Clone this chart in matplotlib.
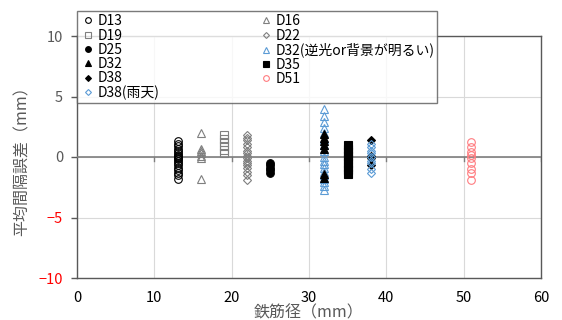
import matplotlib
matplotlib.use('Agg')
import matplotlib.pyplot as plt

plt.rcParams['font.family'] = ['Noto Sans CJK JP', 'DejaVu Sans']

# rebar diameter (mm) and mean spacing error (mm) per series
d13 = [1.3, 1.1, 0.9, 0.7, 0.5, 0.35, 0.2, 0.1, 0.0, -0.1, -0.2, -0.35, -0.5, -0.7, -0.9, -1.1, -1.3, -1.5, -1.8]
d16 = [2.0, 0.7, 0.5, 0.3, 0.1, -0.1, -1.8]
d19 = [1.8, 1.5, 1.2, 0.9, 0.6, 0.35]
d22 = [1.8, 1.6, 1.4, 1.1, 0.8, 0.5, 0.3, 0.1, -0.1, -0.3, -0.5, -0.7, -0.9, -1.2, -1.5, -1.9]
d25 = [-0.5, -0.7, -0.9, -1.1, -1.3]
d32_light = [4.0, 3.4, 2.9, 2.4, 2.0, 1.5, 1.0, 0.5, 0.0, -0.3, -0.6, -0.9, -1.2, -1.5, -1.8, -2.1, -2.4, -2.7]
d32 = [1.9, 1.6, 1.3, 1.0, 0.7, -1.4, -1.7]
d35 = [1.0, 0.7, 0.4, 0.1, -0.2, -0.5, -0.8, -1.1, -1.4]
d38 = [1.4, 0.1, -0.1, -0.7]
d38_rain = [1.1, 0.8, 0.5, 0.3, 0.0, -0.3, -0.5, -1.0, -1.3]
d51 = [1.2, 0.8, 0.4, 0.2, -0.1, -0.5, -1.0, -1.3, -1.9]

blue = '#5B9BD5'
gray = '#7F7F7F'
red = '#FF7C80'

# (label, x, values, marker, face, edge)
series = [
    ('D13', 13, d13, 'o', 'none', 'black'),
    ('D16', 16, d16, '^', 'none', gray),
    ('D19', 19, d19, 's', 'none', gray),
    ('D22', 22, d22, 'D', 'none', gray),
    ('D25', 25, d25, 'o', 'black', 'black'),
    ('D32(逆光or背景が明るい)', 32, d32_light, '^', 'none', blue),
    ('D32', 32, d32, '^', 'black', 'black'),
    ('D35', 35, d35, 's', 'black', 'black'),
    ('D38', 38, d38, 'D', 'black', 'black'),
    ('D51', 51, d51, 'o', 'none', red),
    ('D38(雨天)', 38, d38_rain, 'D', 'none', blue),
]

fig = plt.figure(figsize=(5.62, 3.2), dpi=100)
ax = fig.add_axes([77 / 562, 42 / 320, 464 / 562, 242 / 320])
ax.set_axisbelow(True)

handles = {}
for label, x, vals, m, fc, ec in series:
    ms = 4 if m == 'D' else 5.5
    h, = ax.plot([x] * len(vals), vals, linestyle='none', marker=m, markersize=ms,
                 markerfacecolor=fc, markeredgecolor=ec, markeredgewidth=0.8, label=label,
                 zorder=4)
    handles[label] = h

ax.set_xlim(0, 60)
ax.set_ylim(-10, 10)
ax.set_xticks(range(0, 61, 10))
ax.set_yticks([-10, -5, 0, 5, 10])
ax.grid(True, color='#D9D9D9', linewidth=0.8)
# x axis crosses at 0 with its tick marks
ax.plot([0, 60], [0, 0], color='#7F7F7F', linewidth=1.2, zorder=3)
for xt in range(10, 61, 10):
    ax.plot([xt, xt], [0, -0.35], color='#7F7F7F', linewidth=1.0, zorder=3)

for s in ax.spines.values():
    s.set_color('#595959')
    s.set_linewidth(1.0)
ax.tick_params(axis='both', colors='#595959', labelsize=10.5, length=4, width=1.0)
ax.tick_params(axis='x', length=0, pad=9)
ax.tick_params(axis='y', pad=6)
for lab, v in zip(ax.get_yticklabels(), [-10, -5, 0, 5, 10]):
    lab.set_color('#FF0000' if v < 0 else '#595959')
for lab in ax.get_xticklabels():
    lab.set_color('black')

ax.set_xlabel('鉄筋径（mm）', fontsize=11.5, color='#595959', labelpad=0)
ax.set_ylabel('平均間隔誤差（mm）', fontsize=11.5, color='#595959', labelpad=6)

order = ['D13', 'D19', 'D25', 'D32', 'D38', 'D38(雨天)',
         'D16', 'D22', 'D32(逆光or背景が明るい)', 'D35', 'D51']
leg = fig.legend([handles[k] for k in order], order, ncol=2, loc='lower left',
                 bbox_to_anchor=(77 / 562, 217 / 320, 360 / 562, 90 / 320), mode='expand',
                 fontsize=10, frameon=True, fancybox=False, handlelength=1.2,
                 handletextpad=0.1, borderpad=0.2, labelspacing=0.02, markerscale=0.75,
                 columnspacing=1.0, borderaxespad=0)
leg.get_frame().set_edgecolor('#595959')
leg.get_frame().set_linewidth(1.0)

fig.savefig('out.png', dpi=100)
